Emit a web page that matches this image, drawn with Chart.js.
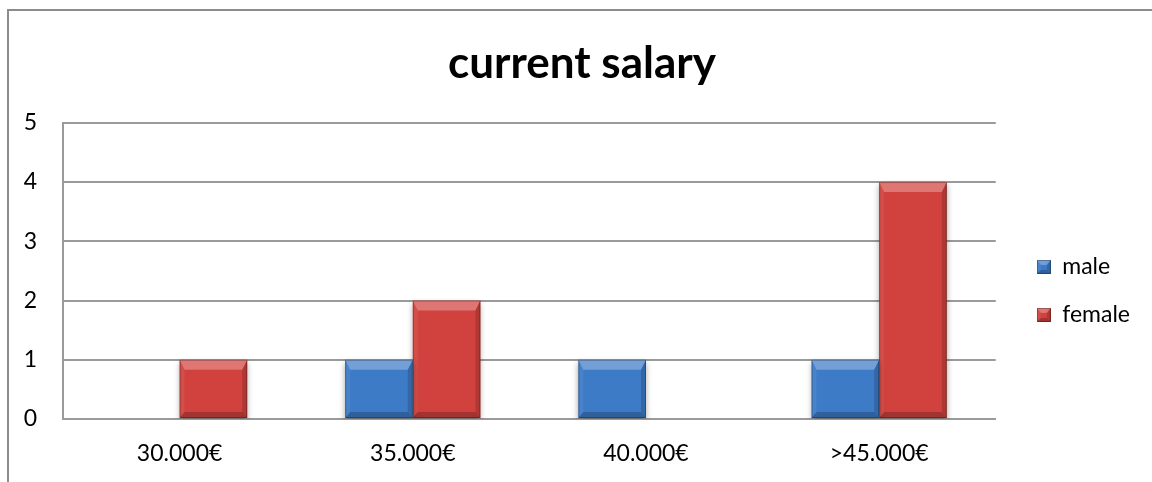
<!DOCTYPE html>
<html>
<head>
<meta charset="utf-8">
<title>current salary</title>
<script src="https://cdn.jsdelivr.net/npm/chart.js@4.4.1/dist/chart.umd.min.js"></script>
<style>
    body {
        margin: 0;
        background: #ffffff;
    }

    #wrap {
        position: relative;
        width: 1152px;
        height: 482px;
        overflow: hidden;
    }

    #frame {
        position: absolute;
        left: 7px;
        top: 9px;
        width: 2000px;
        height: 2000px;
        border-left: 2px solid #8c8c8c;
        border-top: 2px solid #8c8c8c;
    }

    #salaryChart {
        position: absolute;
        left: 0;
        top: 0;
    }
</style>
</head>
<body>

<div id="wrap">
    <div id="frame"></div>
    <canvas id="salaryChart" width="1152" height="482"></canvas>
</div>

<script>

/* ---------------- DATA ---------------- */

const salaryLabels = ["30.000€", "35.000€", "40.000€", ">45.000€"];

const maleCounts = [0, 1, 1, 1];
const femaleCounts = [1, 2, 0, 4];

const yTicks = [0, 1, 2, 3, 4, 5];

/* ---------------- COLOURS ---------------- */

const maleColor = "#3d7bc7";
const femaleColor = "#d1423e";
const lineColor = "#9a9a9a";

/* ---------------- BEVEL DRAWING ---------------- */

function drawBevel(ctx, l, t, r, b, side, topH, botH) {

    // top face, lighter
    ctx.fillStyle = "rgba(255,255,255,0.28)";
    ctx.beginPath();
    ctx.moveTo(l, t);
    ctx.lineTo(r, t);
    ctx.lineTo(r - side, t + topH);
    ctx.lineTo(l + side, t + topH);
    ctx.closePath();
    ctx.fill();

    // left face
    ctx.fillStyle = "rgba(255,255,255,0.06)";
    ctx.beginPath();
    ctx.moveTo(l, t);
    ctx.lineTo(l + side, t + topH);
    ctx.lineTo(l + side, b - botH);
    ctx.lineTo(l, b);
    ctx.closePath();
    ctx.fill();

    // right face, darker
    ctx.fillStyle = "rgba(0,0,0,0.16)";
    ctx.beginPath();
    ctx.moveTo(r, t);
    ctx.lineTo(r - side, t + topH);
    ctx.lineTo(r - side, b - botH);
    ctx.lineTo(r, b);
    ctx.closePath();
    ctx.fill();

    // bottom face, darker
    ctx.fillStyle = "rgba(0,0,0,0.22)";
    ctx.beginPath();
    ctx.moveTo(l, b);
    ctx.lineTo(l + side, b - botH);
    ctx.lineTo(r - side, b - botH);
    ctx.lineTo(r, b);
    ctx.closePath();
    ctx.fill();

    // thin dark edge
    ctx.strokeStyle = "rgba(0,0,0,0.28)";
    ctx.lineWidth = 1;
    ctx.strokeRect(l + 0.5, t + 0.5, r - l - 1, b - t - 1);
}

function makeLegendIcon(color) {

    const c = document.createElement("canvas");
    c.width = 14;
    c.height = 14;

    const g = c.getContext("2d");
    g.fillStyle = color;
    g.fillRect(0, 0, 14, 14);

    drawBevel(g, 0, 0, 14, 14, 4, 5, 4);

    return c;
}

const legendIcons = [makeLegendIcon(maleColor), makeLegendIcon(femaleColor)];

const bevelPlugin = {

    id: "bevel",

    beforeDatasetsDraw(chart) {
        const ctx = chart.ctx;
        ctx.save();
        ctx.shadowColor = "rgba(0,0,0,0.35)";
        ctx.shadowBlur = 6;
        ctx.shadowOffsetY = 3;
    },

    afterDatasetsDraw(chart) {

        const ctx = chart.ctx;
        ctx.restore();

        chart.data.datasets.forEach((ds, i) => {

            const meta = chart.getDatasetMeta(i);

            meta.data.forEach(bar => {

                const p = bar.getProps(["x", "y", "base", "width"], true);
                const h = p.base - p.y;

                if (h < 1) {
                    return;
                }

                drawBevel(ctx, p.x - p.width / 2, p.y, p.x + p.width / 2, p.base, 5, 10, 6);
            });
        });
    }
};

/* ---------------- CHART SETUP ---------------- */

Chart.defaults.font.family = "Lato, 'Open Sans', sans-serif";
Chart.defaults.color = "#000000";

const ctx = document.getElementById("salaryChart");

const salaryChart = new Chart(ctx, {

    type: "bar",

    data: {

        labels: salaryLabels,

        datasets: [
            {
                label: "male",
                data: maleCounts,
                backgroundColor: maleColor,
                borderWidth: 0
            },
            {
                label: "female",
                data: femaleCounts,
                backgroundColor: femaleColor,
                borderWidth: 0
            }
        ]
    },

    options: {

        responsive: false,
        animation: false,

        categoryPercentage: 0.58,
        barPercentage: 1,

        layout: {
            padding: { left: 24, right: 12, top: 0, bottom: 0 }
        },

        plugins: {

            title: {
                display: true,
                text: "current salary",
                font: { size: 44, weight: "bold" },
                padding: { top: 37, bottom: 33 }
            },

            legend: {
                position: "right",
                fullSize: false,
                title: {
                    display: true,
                    text: "",
                    font: { size: 10 },
                    padding: { top: 28, bottom: 0 }
                },
                labels: {
                    usePointStyle: true,
                    boxWidth: 14,
                    boxHeight: 14,
                    padding: 25,
                    font: { size: 23 },
                    generateLabels: function (chart) {
                        const items = Chart.defaults.plugins.legend.labels.generateLabels(chart);
                        items.forEach((item, i) => {
                            item.pointStyle = legendIcons[i];
                        });
                        return items;
                    }
                }
            },

            tooltip: { enabled: false }
        },

        scales: {

            x: {
                grid: { display: false, drawTicks: false },
                border: { color: lineColor, width: 2 },
                ticks: {
                    font: { size: 23 },
                    padding: 21
                },
                afterFit: function (scale) {
                    scale.height = 63;
                }
            },

            y: {
                min: yTicks[0],
                max: yTicks[yTicks.length - 1],
                grid: {
                    color: lineColor,
                    lineWidth: 2,
                    drawTicks: false
                },
                border: { color: lineColor, width: 2 },
                ticks: {
                    stepSize: 1,
                    font: { size: 23 },
                    padding: 26
                },
                afterFit: function (scale) {
                    scale.width = 39;
                }
            },

            // empty axis that keeps the legend away from the plot
            spacer: {
                type: "linear",
                position: "right",
                display: true,
                grid: { display: false, drawTicks: false },
                border: { display: false },
                ticks: { display: false },
                afterFit: function (scale) {
                    scale.width = 16;
                }
            }
        }
    },

    plugins: [bevelPlugin]
});

</script>
</body>
</html>
